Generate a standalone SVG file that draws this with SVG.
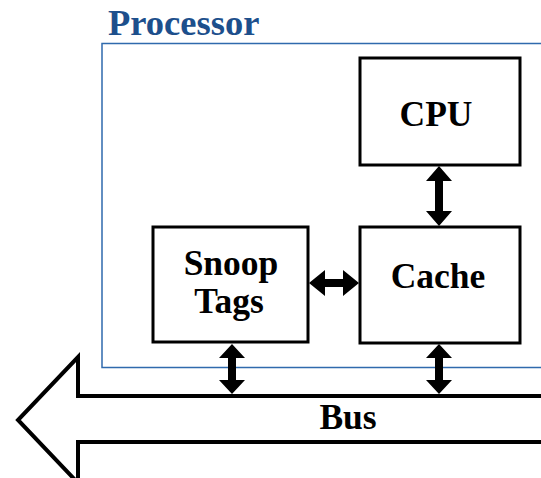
<svg xmlns="http://www.w3.org/2000/svg" width="541" height="478" viewBox="0 0 541 478">
<style>
.box{fill:#fff;stroke:#000;stroke-width:3}
.lbl{font-family:"Liberation Serif","Times New Roman",serif;font-weight:bold;font-size:35.5px;fill:#000;text-anchor:middle}
.arr{fill:#000;stroke:none}
</style>
<rect width="541" height="478" fill="#fff"/>
<g id="processor">
<rect x="102" y="43.5" width="460" height="324" fill="none" stroke="#2f6aad" stroke-width="1.5"/>
<text x="108" y="35" font-family="'Liberation Serif','Times New Roman',serif" font-weight="bold" font-size="36.5" fill="#1d4f8c">Processor</text>
</g>
<g id="bus">
<path d="M560 396 H78 V357 L18 420 L78 483 V442 H560" fill="#fff" stroke="#000" stroke-width="4"/>
<text class="lbl" x="348" y="429">Bus</text>
</g>
<g id="cpu">
<rect class="box" x="360" y="58" width="160" height="107"/>
<text class="lbl" x="436" y="126">CPU</text>
</g>
<g id="snoop">
<rect class="box" x="153" y="227" width="155" height="115"/>
<text class="lbl" x="231" y="275">Snoop</text>
<text class="lbl" x="229" y="313">Tags</text>
</g>
<g id="cache">
<rect class="box" x="360" y="227" width="160" height="116"/>
<text class="lbl" x="438" y="288">Cache</text>
</g>
<g id="connectors" class="arr">
<polygon points="439,166 452,181 443,181 443,211 452,211 439,226 426,211 435,211 435,181 426,181"/>
<polygon points="309,283 325,270 325,279 343,279 343,270 359,283 343,296 343,287 325,287 325,296"/>
<polygon points="232,344 245,358 236,358 236,380 245,380 232,394 219,380 228,380 228,358 219,358"/>
<polygon points="439,344 452,358 443,358 443,380 452,380 439,394 426,380 435,380 435,358 426,358"/>
</g>
</svg>
